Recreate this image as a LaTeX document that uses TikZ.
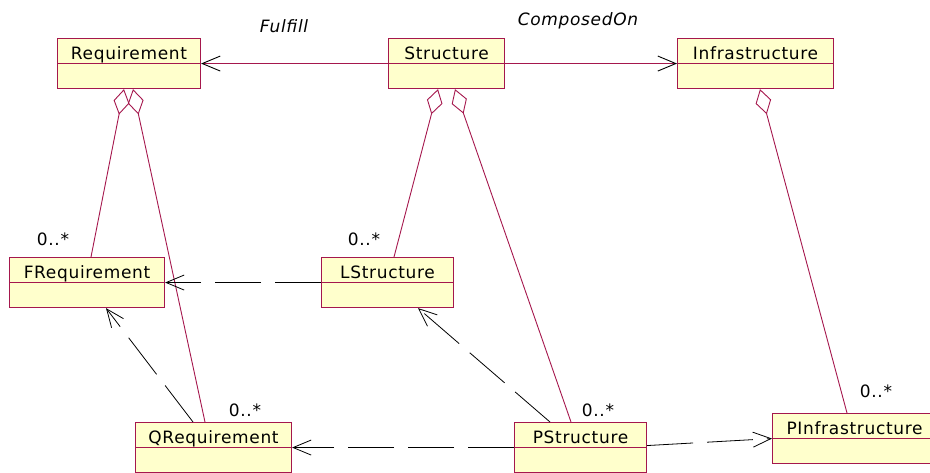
\documentclass[tikz,border=0pt]{standalone}
\usepackage{fontspec}
\setmainfont{DejaVu Sans}[LetterSpace=4]
\usetikzlibrary{calc}
\usetikzlibrary{arrows.meta}
\definecolor{umlred}{HTML}{A5174D}
\definecolor{umlfill}{HTML}{FFFFCC}

\tikzset{
  umlclass/.style={draw=umlred, fill=umlfill, line width=1.1pt, anchor=north west, inner sep=0pt,
    text height=21pt, text depth=29pt, font=\fontsize{17}{20}\selectfont},
  divider/.style={umlred, line width=0.9pt},
  agg/.style={umlred, line width=0.9pt, {Diamond[open, length=26pt, width=16pt]}-},
  dep/.style={black, line width=0.8pt, dash pattern=on 46pt off 14pt, -{Straight Barb[length=18pt, width=15pt]}},
  assoc/.style={umlred, line width=0.9pt, -{Straight Barb[black, length=18pt, width=15pt]}},
  mult/.style={anchor=base, font=\fontsize{17}{20}\selectfont},
  rolename/.style={anchor=base, font=\fontsize{17}{20}\selectfont\itshape}
}

\begin{document}
\begin{tikzpicture}[x=1pt, y=-1pt]

\useasboundingbox (0,0) rectangle (930,472);

% classes

\node[umlclass, minimum width=143] (req) at (57,38) {Requirement};
\node[umlclass, minimum width=116] (str) at (388,38) {Structure};
\node[umlclass, minimum width=156] (inf) at (677,38) {Infrastructure};
\node[umlclass, minimum width=155] (freq) at (9,257) {FRequirement};
\node[umlclass, minimum width=132] (lstr) at (321,257) {LStructure};
\node[umlclass, minimum width=156] (qreq) at (135,422) {QRequirement};
\node[umlclass, minimum width=132] (pstr) at (514,422) {PStructure};
\node[umlclass, minimum width=164] (pinf) at (772,413) {PInfrastructure};

\draw[divider] (req.west) -- (req.east);
\draw[divider] (str.west) -- (str.east);
\draw[divider] (inf.west) -- (inf.east);
\draw[divider] (freq.west) -- (freq.east);
\draw[divider] (lstr.west) -- (lstr.east);
\draw[divider] (qreq.west) -- (qreq.east);
\draw[divider] (pstr.west) -- (pstr.east);
\draw[divider] (pinf.west) -- (pinf.east);

% associations

\draw[assoc] (str.west) -- (req.east);
\draw[assoc] (str.east) -- (inf.west);
\node[rolename] (fulfill) at (284,32) {Fulfill};
\node[rolename] (composedon) at (578,25) {ComposedOn};

% aggregations

\draw[agg] ([xshift=67]req.south west) -- ([xshift=82]freq.north west);
\draw[agg] ([xshift=76]req.south west) -- ([xshift=70]qreq.north west);
\draw[agg] ([xshift=50]str.south west) -- ([xshift=73]lstr.north west);
\draw[agg] ([xshift=67]str.south west) -- ([xshift=57]pstr.north west);
\draw[agg] ([xshift=83]inf.south west) -- ([xshift=75]pinf.north west);

\node[mult] (mfreq) at (53,245) {0..*};
\node[mult] (mlstr) at (364,245) {0..*};
\node[mult] (mqreq) at (245,416) {0..*};
\node[mult] (mpstr) at (598,416) {0..*};
\node[mult] (mpinf) at (876,397) {0..*};

% dependencies

\draw[dep] (lstr.west) -- (freq.east);
\draw[dep] ([xshift=58]qreq.north west) -- ([xshift=97]freq.south west);
\draw[dep] ([xshift=36]pstr.north west) -- ([xshift=97]lstr.south west);
\draw[dep] (pstr.west) -- (qreq.east);
\draw[dep] ([yshift=2]pstr.east) -- (pinf.west);

\end{tikzpicture}
\end{document}
